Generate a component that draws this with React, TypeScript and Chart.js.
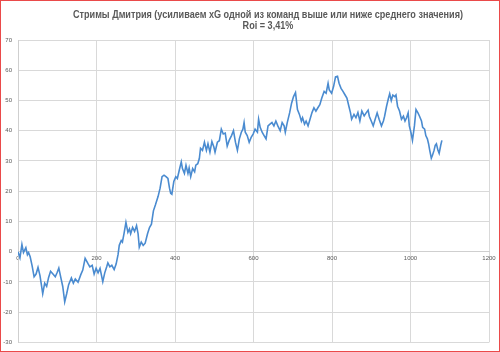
import React, { useEffect, useRef } from "react";
import { Chart, registerables } from "chart.js";

Chart.register(...registerables);

const titleLine1 = "Стримы Дмитрия (усиливаем xG одной из команд выше или ниже среднего значения)";
const titleLine2 = "Roi = 3,41%";

const xMin = 0;
const xMax = 1200;
const xStep = 200;
const yMin = -30;
const yMax = 70;
const yStep = 10;

const games = [
  0, 5, 10, 14, 20, 24, 27, 31, 36, 41, 46, 51, 56, 63, 68, 73, 78, 83, 88, 95, 100, 104, 109, 114, 119, 124, 129, 136, 141, 146, 153, 160, 165, 171,
  178, 183, 189, 194, 199, 204, 209, 216, 221, 226, 229, 234, 239, 245, 250, 255, 258, 263, 266, 270, 275, 280, 284, 287, 292, 297, 302, 306, 309, 314, 319, 324, 330, 335, 340, 345, 350,
  357, 362, 367, 372, 377, 382, 386, 389, 392, 397, 402, 406, 411, 416, 419, 424, 428, 433, 436, 440, 445, 450, 453, 458, 462, 465, 470, 475, 480, 484, 489, 494, 499, 502, 508, 513, 518, 523, 528, 533,
  538, 544, 549, 554, 559, 564, 569, 573, 576, 579, 584, 589, 594, 599, 604, 610, 613, 617, 622, 627, 632, 637, 642, 647, 652, 657, 662, 668, 673, 678, 681, 686, 692, 697, 702, 707,
  712, 717, 722, 725, 730, 734, 739, 744, 749, 754, 759, 764, 769, 774, 780, 785, 790, 793, 799, 804, 809, 814, 818, 823, 828, 833, 838, 843, 847, 850, 856, 861, 866, 871, 876, 882,
  887, 892, 895, 900, 905, 910, 915, 920, 926, 931, 934, 939, 944, 947, 951, 955, 960, 963, 967, 972, 977, 982, 986, 990, 994, 997, 1001, 1005, 1010, 1014, 1019, 1023, 1028, 1031, 1036, 1039, 1043, 1046, 1049, 1053, 1056, 1060, 1063, 1066, 1070, 1073, 1077, 1080,
];

const profit = [
  0, -2, 2.4, -0.3, 1.3, -1, -0.3, -1.7, -4.7, -8.3, -7.4, -5.2, -7.9, -13.9, -10.4, -11.5, -8.5, -6.5, -7.2, -8.3, -6.8, -5.4, -8.5, -11.5, -16.6, -13.9, -10.9, -8.7, -10.4, -9, -10.1, -7.6, -6.1, -2.2,
  -3.9, -5, -4.5, -7.4, -5.5, -7, -5.5, -9.9, -7, -5, -3.7, -5, -4.5, -5.9, -4.1, -0.9, 2.1, 3.7, 3.2, 5.9, 9.7, 6.4, 7.5, 5.9, 8, 6.7, 8.6, 5.9, 1.5, 3.2, 2.1, 2.8, 5.9, 8, 9.1, 13.5, 15.4,
  18.3, 21, 24.8, 25.3, 24.8, 24.2, 21, 19.3, 19, 23.2, 24.8, 24.2, 27, 29.7, 27.5, 25.9, 28.6, 25.9, 27.7, 24.8, 27.5, 26.4, 28.6, 29.1, 30.8, 34.2, 33.5, 36.2, 33.5, 35.7, 32.9, 36.4, 34.6, 32.9, 36.2, 36.7, 40.5, 38.9, 39.2, 34.9,
  36.8, 38.4, 40, 36.2, 33.5, 37.3, 39.5, 40.5, 42.7, 39.5, 38.4, 36.2, 37.8, 38.9, 40.5, 39.5, 43.8, 41.1, 39.5, 38.4, 37.3, 41.6, 42.2, 42.7, 41.6, 43.2, 41.6, 40, 42.7, 41.6, 39.5, 42.7, 45.9, 49.1, 51.3, 52.6,
  47, 45.4, 43.2, 44.3, 42.2, 43.2, 41.6, 43.8, 46, 47.6, 46.5, 47.6, 48.6, 50.8, 53, 52.4, 55.7, 53.5, 52.4, 54.6, 57.8, 58, 55.7, 54, 53, 51.9, 50.8, 48.1, 46, 43.8, 45.4, 44.3, 46, 43.2, 46.5, 44.9,
  45.9, 46.8, 44.8, 43.2, 41.6, 43.8, 45.9, 43.8, 41.6, 43.2, 44.8, 48.1, 50.8, 52.2, 50, 51.8, 51.3, 51.8, 48.1, 46.5, 43.8, 44.8, 43.2, 44.3, 45.9, 41.6, 39.5, 36.8, 41.6, 47, 45.9, 44.8, 43.2, 41.1, 40.5, 38.4, 37.3, 35.7, 33.5, 30.9, 31.9, 33.5, 35.2, 35.7, 33.5, 32.5, 35.2, 36.8,
];

const textColor = "#595959";
const gridColor = "#d9d9d9";
const lineColor = "#4a8bd0";
const tickFont = '"Liberation Sans", Arial, sans-serif';

const titlePlugin = {
  id: "twoLineTitle",
  afterDraw(chart: any) {
    const ctx = chart.ctx as CanvasRenderingContext2D;
    const family = '"Liberation Sans", Arial, sans-serif';
    const cx = 268;
    ctx.save();
    ctx.fillStyle = textColor;
    ctx.textAlign = "center";
    ctx.textBaseline = "alphabetic";
    ctx.font = `bold 11px ${family}`;
    const w = ctx.measureText(titleLine1).width;
    const sx = Math.min(1, 390 / w);
    ctx.translate(cx, 0);
    ctx.scale(sx, 1);
    ctx.fillText(titleLine1, 0, 17.5);
    ctx.fillText(titleLine2, 0, 28.5);
    ctx.restore();
  },
};

export default function App() {
  const canvasRef = useRef<HTMLCanvasElement | null>(null);

  useEffect(() => {
    if (!canvasRef.current) return;
    const points = games.map((g, i) => ({ x: g, y: profit[i] }));
    const chart = new Chart(canvasRef.current, {
      type: "line",
      data: {
        datasets: [
          {
            data: points,
            borderColor: lineColor,
            borderWidth: 1.6,
            pointRadius: 0,
            tension: 0,
            fill: false,
          },
        ],
      },
      options: {
        responsive: false,
        animation: false,
        devicePixelRatio: 1,
        layout: { padding: { top: 40, right: 11, bottom: 5, left: 0 } },
        plugins: {
          legend: { display: false },
          title: { display: false },
          tooltip: { enabled: false },
        },
        scales: {
          x: {
            type: "linear",
            min: xMin,
            max: xMax,
            position: { y: 0 } as any,
            ticks: {
              stepSize: xStep,
              color: textColor,
              font: { size: 6, family: tickFont },
              padding: 3,
              maxRotation: 0,
              callback: (v: any) => String(v),
            },
            grid: { color: gridColor, drawTicks: false, lineWidth: 1 },
            border: { color: "#cfcfcf", width: 1 },
          },
          y: {
            type: "linear",
            min: yMin,
            max: yMax,
            afterFit: (s: any) => {
              s.width = 18;
            },
            ticks: {
              stepSize: yStep,
              color: textColor,
              font: { size: 6, family: tickFont },
              padding: 6,
              callback: (v: any) => String(v),
            },
            grid: { color: gridColor, drawTicks: false, lineWidth: 1 },
            border: { color: "#cfcfcf", width: 1 },
          },
        },
      },
      plugins: [titlePlugin],
    });
    return () => chart.destroy();
  }, []);

  return (
    <div style={{ position: "fixed", left: 0, top: 0, width: 500, height: 352, background: "#ffffff" }}>
      <canvas ref={canvasRef} width={500} height={352} style={{ display: "block", width: 500, height: 352 }} />
      <div
        style={{
          position: "absolute",
          left: 0,
          top: 0,
          width: 500,
          height: 352,
          boxSizing: "border-box",
          border: "1px solid #ea4a4a",
          pointerEvents: "none",
        }}
      />
    </div>
  );
}
